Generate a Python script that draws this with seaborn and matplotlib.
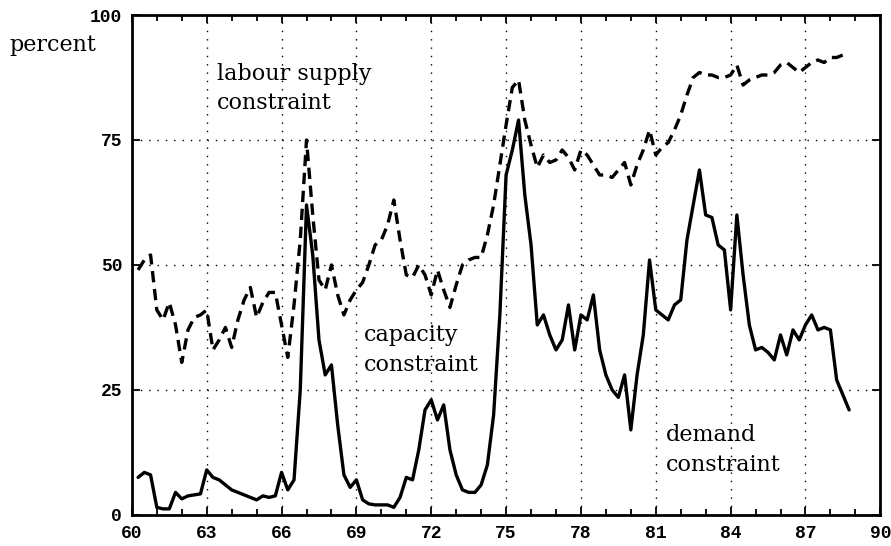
import numpy as np
import pandas as pd
import matplotlib
matplotlib.use("Agg")
import matplotlib.pyplot as plt
from matplotlib.ticker import MultipleLocator
import seaborn as sns

# quarterly shares of firms (percent)
demand = [7.5, 8.5, 8, 1.5, 1.2, 1.2, 4.5, 3.2, 3.8, 4, 4.2,
          9, 7.5, 7, 6, 5, 4.5, 4, 3.5, 3, 3.8, 3.5, 3.8,
          8.5, 5, 7, 25, 62, 52, 35, 28, 30, 18, 8, 5.5,
          7, 3, 2.2, 2, 2, 2, 1.5, 3.5, 7.5, 7, 13, 21,
          23, 19, 22, 13, 8, 5, 4.5, 4.5, 6, 10, 20, 40,
          68, 73, 79, 64, 54, 38, 40, 36, 33, 35, 42, 33,
          40, 39, 44, 33, 28, 25, 23.5, 28, 17, 28, 36, 51,
          41, 40, 39, 42, 43, 55, 62, 69, 60, 59.5, 54, 53,
          41, 60, 48, 38, 33, 33.5, 32.5, 31, 36, 32, 37, 35,
          38, 40, 37, 37.5, 37, 27, 24, 21]
labour = [49, 51, 52, 41, 39, 42.5, 38, 30.5, 37, 39.5, 40,
          41, 33, 35, 37.5, 33.5, 39, 43, 45.5, 39.5, 42.5, 44.5, 44.5,
          38, 31.5, 42, 55, 75, 60, 47, 45, 50, 44, 40, 43,
          45, 46.5, 50, 54, 55, 58, 63, 55, 48, 47.5, 50, 48,
          44, 49, 45, 41.5, 46, 50, 51, 51.5, 51.5, 56, 62, 70,
          78, 85.5, 87, 79, 74, 69.5, 72, 70.5, 71, 73, 71.5, 69,
          73, 72, 70, 68, 68, 67.5, 69, 70.5, 66, 70, 73, 77,
          72, 73.5, 74.5, 77, 80, 84, 87.5, 88.5, 88, 88, 87.5, 87.5,
          88, 90, 86, 87, 87.5, 88, 88, 88.5, 90, 90.5, 89.5, 88.5,
          89.5, 90.5, 91, 90.5, 91.5, 91.5, 92]

xticks = list(range(60, 91, 3))
yticks = [0, 25, 50, 75, 100]

df_d = pd.DataFrame({"year": 60.25 + 0.25 * np.arange(len(demand)), "pct": demand})
df_l = pd.DataFrame({"year": 60.25 + 0.25 * np.arange(len(labour)), "pct": labour})

sns.set_style("ticks")
plt.rcParams['font.family'] = ['DejaVu Serif']
plt.rcParams['text.color'] = 'black'

fig = plt.figure(figsize=(8.91, 5.46), dpi=100)
ax = fig.add_axes([0.148, 0.057, 0.840, 0.9155])

sns.lineplot(data=df_l, x="year", y="pct", ax=ax, color="black",
             lw=2.4, linestyle=(0, (3.4, 2.0)))
sns.lineplot(data=df_d, x="year", y="pct", ax=ax, color="black", lw=2.4)

ax.set_xlim(60, 90)
ax.set_ylim(0, 100)
ax.set_xticks(xticks)
ax.set_yticks(yticks)
ax.xaxis.set_minor_locator(MultipleLocator(1))
ax.set_xlabel("")
ax.set_ylabel("")
ax.grid(True, which="major", color="black", linestyle=(0, (1, 5)), lw=1)
ax.tick_params(which="both", direction="in", top=True, right=True,
               color="black", width=1.3, labelcolor="black")
ax.tick_params(which="major", length=6, pad=7)
ax.tick_params(which="minor", length=4)
for s in ax.spines.values():
    s.set_color("black")
    s.set_linewidth(2)
for lab in ax.get_xticklabels() + ax.get_yticklabels():
    lab.set_fontfamily("Liberation Mono")
    lab.set_fontweight("bold")
    lab.set_fontsize(13)

txt = dict(fontsize=16, ha="left", va="center", linespacing=1.45,
           color="black", clip_on=False)
ax.text(55.1, 94, "percent", **txt)
ax.text(63.4, 85.3, "labour supply\nconstraint", **txt)
ax.text(69.3, 33, "capacity\nconstraint", **txt)
ax.text(81.4, 13, "demand\nconstraint", **txt)

fig.savefig("out.png", dpi=100)
